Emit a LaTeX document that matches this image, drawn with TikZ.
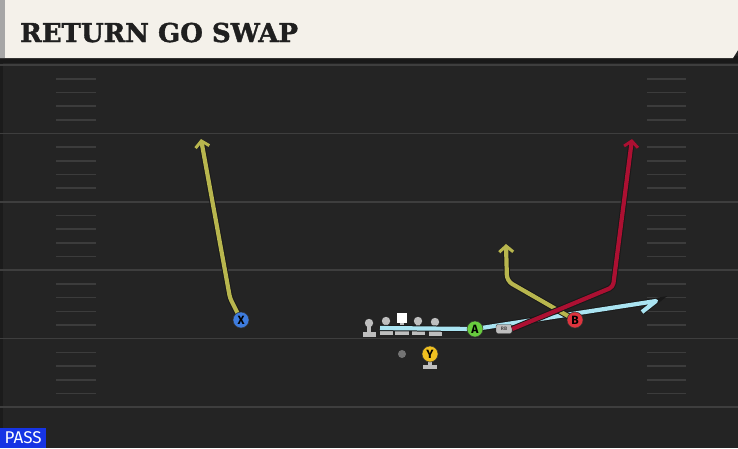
\documentclass[tikz,border=0pt]{standalone}
\usepackage{fontspec}
\newfontfamily\headfont[BoldFeatures={FakeBold=1.5}]{DejaVu Serif}
\newfontfamily\tagfont{Fira Sans}
\usetikzlibrary{arrows.meta}

\definecolor{turf}{RGB}{36,36,36}
\definecolor{yardgray}{RGB}{62,62,62}
\definecolor{hashgray}{RGB}{60,60,60}
\definecolor{paper}{RGB}{244,241,234}
\definecolor{linegray}{RGB}{190,190,190}
\definecolor{olive}{RGB}{184,182,78}
\definecolor{crimson}{RGB}{172,16,50}
\definecolor{iceblue}{RGB}{170,228,242}
\definecolor{xblue}{RGB}{62,124,222}
\definecolor{agreen}{RGB}{104,204,62}
\definecolor{bred}{RGB}{222,52,62}
\definecolor{ygold}{RGB}{240,192,32}
\definecolor{passblue}{RGB}{22,52,228}

\begin{document}
\begin{tikzpicture}[x=1pt, y=-1pt,
	player/.style={circle, draw=black!80, line width=.5pt, minimum size=16pt, inner sep=0pt, font=\tagfont\bfseries\fontsize{12}{12}\selectfont},
	route/.style={line width=4.2pt, line join=round, preaction={draw=black!90, line width=6.2pt}},
	go/.style={-{Straight Barb[length=6pt, width=14pt, line width=3pt]}},
	hashline/.style={draw=hashgray, line width=1.6pt},
	yardline/.style={draw=yardgray, line width=1.6pt}]
	\useasboundingbox (0,0) rectangle (738,448);
	\fill[turf] (0,0) rectangle (738,448);
	\fill[black!25!turf] (0,0) rectangle (3,448);
	% yard lines and hashes
	\foreach \k in {0,...,5}
		\draw[yardline] (0,{65+68.4*\k}) -- (738,{65+68.4*\k});
	\foreach \k in {0,...,4} {
		\foreach \i in {1,...,4} {
			\draw[hashline] (56,{65+68.4*\k+13.7*\i}) -- (96,{65+68.4*\k+13.7*\i});
			\draw[hashline] (647,{65+68.4*\k+13.7*\i}) -- (686,{65+68.4*\k+13.7*\i});
		}
	}
	% header
	\fill[black!90] (0,56) rectangle (738,63);
	\fill[paper] (0,0) -- (738,0) -- (738,50) -- (733,58) -- (0,58) -- cycle;
	\fill[black!35] (0,0) rectangle (5,58);
	\node[anchor=base west, inner sep=0pt, text=black!88, font=\headfont\bfseries\fontsize{26}{26}\selectfont] (title) at (20,42) {RETURN GO SWAP};

	\coordinate (posX) at (241,320);
	\coordinate (posA) at (475,329);
	\coordinate (posB) at (575,320);
	\coordinate (posY) at (430,354);
	\coordinate (xbend) at (230,298);
	\coordinate (xend) at (201,139);
	\coordinate (bbend) at (507,281);
	\coordinate (bend) at (506,244);
	\coordinate (rbbend) at (613,287);
	\coordinate (rbend) at (632,139);
	\coordinate (icestart) at (380,328);
	\coordinate (iceend) at (656,301);
	\coordinate (icehook) at (642,312);

	% offensive line
	\foreach \x/\y in {369/323, 386/321, 418/321, 435/322} {
		\fill[linegray] (\x,\y) circle (4.2);
		\fill[linegray] (\x-2,\y) rectangle (\x+2,\y+9);
		\fill[linegray] (\x-6.5,\y+8.5) rectangle (\x+6.5,\y+14);
	}
	\fill[white] (397,313) rectangle (407,323);
	\fill[linegray] (400,323) rectangle (404,330);
	\fill[linegray] (395,329) rectangle (409,335);
	\fill[black!55] (402,354) circle (4) node (qb) {};

	% routes
	\draw[route, draw=iceblue] (icestart) -- (posA) -- (iceend) -- (icehook);
	\draw[route, draw=olive, go, rounded corners=3pt] (posX) -- (xbend) -- (xend);
	\draw[route, draw=olive, go, rounded corners=6pt] (posB) -- (bbend) -- (bend);
	\node[draw=black!80, fill=linegray, rounded corners=2pt, minimum width=16pt, minimum height=9pt, inner sep=0pt, text=black!70, font=\tagfont\bfseries\fontsize{5}{5}\selectfont] (rb) at (504,329) {RB};
	\draw[route, draw=crimson, go, rounded corners=4pt] (rb.east) -- (rbbend) -- (rbend);

	% players
	\fill[linegray] (428,360) rectangle (432,366);
	\fill[linegray] (423,365) rectangle (437,369);
	\node[player, fill=xblue] (X) at (posX) {X};
	\node[player, fill=agreen] (A) at (posA) {A};
	\node[player, fill=bred] (B) at (posB) {B};
	\node[player, fill=ygold] (Y) at (posY) {Y};

	\node[fill=passblue, text=white, anchor=south west, minimum width=46pt, minimum height=20pt, inner sep=0pt, font=\tagfont\fontsize{17}{17}\selectfont] (play) at (0,448) {PASS};
\end{tikzpicture}
\end{document}
